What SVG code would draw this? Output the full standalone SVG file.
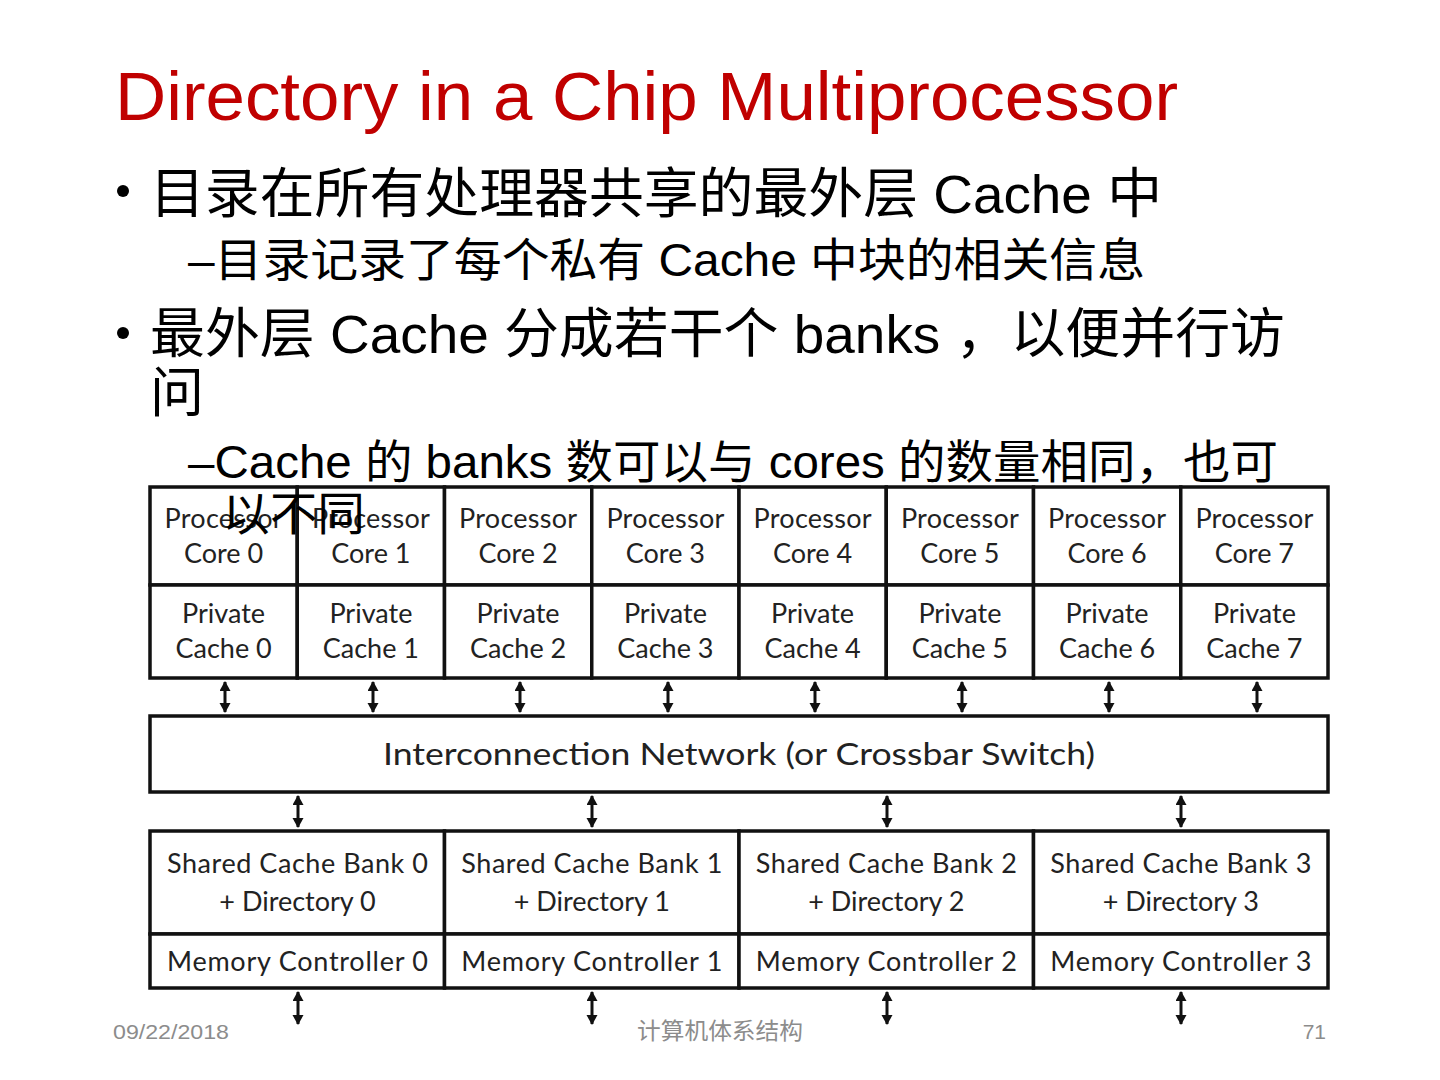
<svg xmlns="http://www.w3.org/2000/svg" width="1440" height="1080" viewBox="0 0 1440 1080">
<style>
.box{fill:#fff;stroke:#111;stroke-width:3.5}
.lbl{font-family:Lato,"Open Sans","Liberation Sans",sans-serif;font-size:27px;fill:#222;text-anchor:middle}
.conn{stroke:#111;stroke-width:3;marker-start:url(#ah);marker-end:url(#ah)}
.title{font-family:"Liberation Sans",Arial,sans-serif;font-size:68px;fill:#c00000}
.b1{font-family:"Liberation Sans","Noto Sans CJK SC",sans-serif;font-size:54px;fill:#000}
.b2{font-family:"Liberation Sans","Noto Sans CJK SC",sans-serif;font-size:46px;fill:#000}
.foot{font-family:"Liberation Sans","Noto Sans CJK SC",sans-serif;font-size:21px;fill:#8c8c8c}
</style>
<defs>
<marker id="ah" markerUnits="userSpaceOnUse" markerWidth="12" markerHeight="12" refX="9" refY="5.5" orient="auto-start-reverse">
<path d="M0,0 L10,5.5 L0,11 Z" fill="#111"/>
</marker>
</defs>
<rect width="1440" height="1080" fill="#fff"/>

<text class="title" x="115" y="120" textLength="1063" lengthAdjust="spacingAndGlyphs">Directory in a Chip Multiprocessor</text>

<g id="connectors">
<line class="conn" x1="225" y1="682" x2="225" y2="712"/>
<line class="conn" x1="373" y1="682" x2="373" y2="712"/>
<line class="conn" x1="520" y1="682" x2="520" y2="712"/>
<line class="conn" x1="668" y1="682" x2="668" y2="712"/>
<line class="conn" x1="815" y1="682" x2="815" y2="712"/>
<line class="conn" x1="962" y1="682" x2="962" y2="712"/>
<line class="conn" x1="1109" y1="682" x2="1109" y2="712"/>
<line class="conn" x1="1257" y1="682" x2="1257" y2="712"/>
<line class="conn" x1="298" y1="796" x2="298" y2="827"/>
<line class="conn" x1="592" y1="796" x2="592" y2="827"/>
<line class="conn" x1="887" y1="796" x2="887" y2="827"/>
<line class="conn" x1="1181" y1="796" x2="1181" y2="827"/>
<line class="conn" x1="298" y1="992" x2="298" y2="1024"/>
<line class="conn" x1="592" y1="992" x2="592" y2="1024"/>
<line class="conn" x1="887" y1="992" x2="887" y2="1024"/>
<line class="conn" x1="1181" y1="992" x2="1181" y2="1024"/>
</g>

<g id="core0"><rect class="box" x="150" y="487" width="147.25" height="98"/><text class="lbl" x="223.6" y="528" textLength="118">Processor</text><text class="lbl" x="223.6" y="563">Core 0</text></g>
<g id="core1"><rect class="box" x="297.25" y="487" width="147.25" height="98"/><text class="lbl" x="370.9" y="528" textLength="118">Processor</text><text class="lbl" x="370.9" y="563">Core 1</text></g>
<g id="core2"><rect class="box" x="444.5" y="487" width="147.25" height="98"/><text class="lbl" x="518.1" y="528" textLength="118">Processor</text><text class="lbl" x="518.1" y="563">Core 2</text></g>
<g id="core3"><rect class="box" x="591.75" y="487" width="147.25" height="98"/><text class="lbl" x="665.4" y="528" textLength="118">Processor</text><text class="lbl" x="665.4" y="563">Core 3</text></g>
<g id="core4"><rect class="box" x="739" y="487" width="147.25" height="98"/><text class="lbl" x="812.6" y="528" textLength="118">Processor</text><text class="lbl" x="812.6" y="563">Core 4</text></g>
<g id="core5"><rect class="box" x="886.25" y="487" width="147.25" height="98"/><text class="lbl" x="959.9" y="528" textLength="118">Processor</text><text class="lbl" x="959.9" y="563">Core 5</text></g>
<g id="core6"><rect class="box" x="1033.5" y="487" width="147.25" height="98"/><text class="lbl" x="1107.1" y="528" textLength="118">Processor</text><text class="lbl" x="1107.1" y="563">Core 6</text></g>
<g id="core7"><rect class="box" x="1180.75" y="487" width="147.25" height="98"/><text class="lbl" x="1254.4" y="528" textLength="118">Processor</text><text class="lbl" x="1254.4" y="563">Core 7</text></g>

<g id="cache0"><rect class="box" x="150" y="585" width="147.25" height="93"/><text class="lbl" x="223.6" y="623">Private</text><text class="lbl" x="223.6" y="658">Cache 0</text></g>
<g id="cache1"><rect class="box" x="297.25" y="585" width="147.25" height="93"/><text class="lbl" x="370.9" y="623">Private</text><text class="lbl" x="370.9" y="658">Cache 1</text></g>
<g id="cache2"><rect class="box" x="444.5" y="585" width="147.25" height="93"/><text class="lbl" x="518.1" y="623">Private</text><text class="lbl" x="518.1" y="658">Cache 2</text></g>
<g id="cache3"><rect class="box" x="591.75" y="585" width="147.25" height="93"/><text class="lbl" x="665.4" y="623">Private</text><text class="lbl" x="665.4" y="658">Cache 3</text></g>
<g id="cache4"><rect class="box" x="739" y="585" width="147.25" height="93"/><text class="lbl" x="812.6" y="623">Private</text><text class="lbl" x="812.6" y="658">Cache 4</text></g>
<g id="cache5"><rect class="box" x="886.25" y="585" width="147.25" height="93"/><text class="lbl" x="959.9" y="623">Private</text><text class="lbl" x="959.9" y="658">Cache 5</text></g>
<g id="cache6"><rect class="box" x="1033.5" y="585" width="147.25" height="93"/><text class="lbl" x="1107.1" y="623">Private</text><text class="lbl" x="1107.1" y="658">Cache 6</text></g>
<g id="cache7"><rect class="box" x="1180.75" y="585" width="147.25" height="93"/><text class="lbl" x="1254.4" y="623">Private</text><text class="lbl" x="1254.4" y="658">Cache 7</text></g>

<g id="interconnect"><rect class="box" x="150" y="716" width="1178" height="76"/><text class="lbl" x="739" y="765" style="font-size:31px" textLength="712" lengthAdjust="spacingAndGlyphs">Interconnection Network (or Crossbar Switch)</text></g>

<g id="bank0"><rect class="box" x="150" y="831" width="294.5" height="103"/><text class="lbl" x="297.5" y="873" textLength="261">Shared Cache Bank 0</text><text class="lbl" x="297.5" y="911">+ Directory 0</text></g>
<g id="bank1"><rect class="box" x="444.5" y="831" width="294.5" height="103"/><text class="lbl" x="591.8" y="873" textLength="261">Shared Cache Bank 1</text><text class="lbl" x="591.8" y="911">+ Directory 1</text></g>
<g id="bank2"><rect class="box" x="739" y="831" width="294.5" height="103"/><text class="lbl" x="886.3" y="873" textLength="261">Shared Cache Bank 2</text><text class="lbl" x="886.3" y="911">+ Directory 2</text></g>
<g id="bank3"><rect class="box" x="1033.5" y="831" width="294.5" height="103"/><text class="lbl" x="1180.8" y="873" textLength="261">Shared Cache Bank 3</text><text class="lbl" x="1180.8" y="911">+ Directory 3</text></g>

<g id="mc0"><rect class="box" x="150" y="934" width="294.5" height="54"/><text class="lbl" x="297.5" y="971" textLength="261">Memory Controller 0</text></g>
<g id="mc1"><rect class="box" x="444.5" y="934" width="294.5" height="54"/><text class="lbl" x="591.8" y="971" textLength="261">Memory Controller 1</text></g>
<g id="mc2"><rect class="box" x="739" y="934" width="294.5" height="54"/><text class="lbl" x="886.3" y="971" textLength="261">Memory Controller 2</text></g>
<g id="mc3"><rect class="box" x="1033.5" y="934" width="294.5" height="54"/><text class="lbl" x="1180.8" y="971" textLength="261">Memory Controller 3</text></g>

<g id="bullets">
<circle cx="123" cy="191" r="6" fill="#000"/>
<text class="b1" x="150" y="213" textLength="1012" lengthAdjust="spacingAndGlyphs">目录在所有处理器共享的最外层 Cache 中</text>
<text class="b2" x="188" y="276" textLength="957" lengthAdjust="spacingAndGlyphs">–目录记录了每个私有 Cache 中块的相关信息</text>
<circle cx="123" cy="333" r="6" fill="#000"/>
<text class="b1" x="150" y="353" textLength="1135" lengthAdjust="spacingAndGlyphs">最外层 Cache 分成若干个 banks ，以便并行访</text>
<text class="b1" x="150" y="412">问</text>
<text class="b2" x="188" y="478" textLength="1090" lengthAdjust="spacingAndGlyphs">–Cache 的 banks 数可以与 cores 的数量相同，也可</text>
<text class="b2" x="222" y="530" textLength="143" lengthAdjust="spacingAndGlyphs">以不同</text>
</g>

<g id="footer">
<text class="foot" x="113" y="1039" textLength="116" lengthAdjust="spacingAndGlyphs">09/22/2018</text>
<text class="foot" x="637" y="1039" style="font-size:23px" textLength="166" lengthAdjust="spacingAndGlyphs">计算机体系结构</text>
<text class="foot" x="1326" y="1039" text-anchor="end">71</text>
</g>
</svg>
